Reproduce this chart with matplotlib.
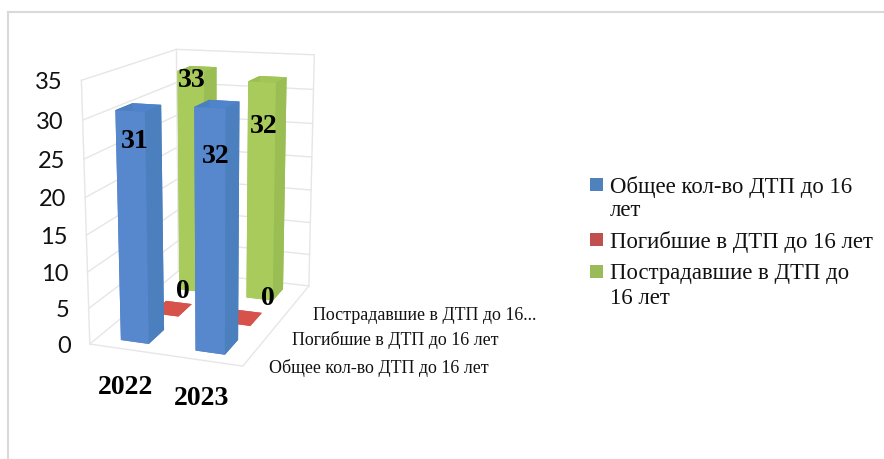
import numpy as np
import matplotlib
matplotlib.use("Agg")
import matplotlib.pyplot as plt
import matplotlib.transforms as mtransforms
from matplotlib.lines import Line2D
from matplotlib.patches import Rectangle
from mpl_toolkits.mplot3d import proj3d

W, H = 884, 459

# ---- data ----
years = ["2022", "2023"]
series_names = ["Общее кол-во ДТП до 16 лет", "Погибшие в ДТП до 16 лет", "Пострадавшие в ДТП до 16 лет"]
total = [31, 32]
killed = [0, 0]
injured = [33, 32]
y_ticks = [0, 5, 10, 15, 20, 25, 30, 35]
depth_labels = ["Общее кол-во ДТП до 16 лет", "Погибшие в ДТП до 16 лет", "Пострадавшие в ДТП до 16..."]
legend_lines = [["Общее кол-во ДТП до 16", "лет"], ["Погибшие в ДТП до 16 лет"], ["Пострадавшие в ДТП до", "16 лет"]]

# ---- style ----
SERIF = "Liberation Serif"
face_colors = [
    {"front": "#5787CC", "side": "#4B7FBE", "top": "#4F84CC"},
    {"front": "#D8524C", "side": "#C0504D", "top": "#D8524C"},
    {"front": "#A8CB5C", "side": "#9ABD54", "top": "#A2C558"},
]
legend_colors = ["#4F81BD", "#C0504D", "#9BBB59"]
GRID = "#E6E6E6"
BAR_W, BAR_D = 0.38, 0.50
YMAX = 35

fig = plt.figure(figsize=(W / 100, H / 100), dpi=100, facecolor="white")
ax = fig.add_axes([0, 0, H / W, 1], projection="3d")
ax.set_axis_off()
ax.patch.set_visible(False)
ax.apply_aspect()

# Perspective camera calibrated on the box corners (world -> figure pixels)
world = np.array([[0, 0, 0], [2, 0, 0], [0, 3, 0], [2, 3, 0],
                  [0, 0, YMAX], [0, 3, YMAX], [2, 3, YMAX]], float)
pix = np.array([[90, 343], [243, 367], [178, 272], [309, 285],
                [81, 80.5], [177, 49], [314, 55]], float)
disp = np.column_stack([pix[:, 0], H - pix[:, 1]])
uv = ax.transData.inverted().transform(disp)
A, b = [], []
for (X, Y, Z), (u, v) in zip(world, uv):
    A.append([X, Y, Z, 1, 0, 0, 0, 0, -u * X, -u * Y, -u * Z]); b.append(u)
    A.append([0, 0, 0, 0, X, Y, Z, 1, -v * X, -v * Y, -v * Z]); b.append(v)
p = np.linalg.lstsq(np.array(A), np.array(b), rcond=None)[0]
M = np.array([p[:4], p[4:8], [0, 0.1, 0, 0], [p[8], p[9], p[10], 1.0]])
ax.get_proj = lambda: M


def label3d(x, y, z, s, dx=0, dy=0, **kw):
    u, v, _ = proj3d.proj_transform(x, y, z, M)
    tr = mtransforms.offset_copy(ax.transData, fig=fig, x=dx, y=-dy, units="dots")
    ax.text2D(u, v, s, transform=tr, zorder=1000, va="center", **kw)


def wall_line(xs, ys, zs):
    us, vs, _ = proj3d.proj_transform(np.array(xs, float), np.array(ys, float), np.array(zs, float), M)
    ax.add_line(Line2D(us, vs, color=GRID, lw=1, zorder=1))


# walls and gridlines
for v in y_ticks:
    wall_line([0, 0, 2], [0, 3, 3], [v, v, v])
for x, y in [(0, 0), (0, 3), (2, 3)]:
    wall_line([x, x], [y, y], [0, YMAX])
wall_line([0, 2, 2], [0, 0, 3], [0, 0, 0])

# bars
all_series = [total, killed, injured]
for j, vals in enumerate(all_series):
    c = face_colors[j]
    n = len(vals)
    cols = [c["side"], c["top"], c["front"], c["side"], c["side"], c["side"]] * n
    ax.bar3d(np.arange(n) + (1 - BAR_W) / 2, np.full(n, j + (1 - BAR_D) / 2), np.zeros(n),
             BAR_W, BAR_D, vals, color=cols, shade=False, linewidth=0, edgecolor="none")

# data labels (pixel nudges per label)
label_nudge = {(0, 0): (5, 31), (0, 1): (6, 49), (1, 0): (18, -23), (1, 1): (31, -26), (2, 0): (1, 9), (2, 1): (2, 44)}
for j, vals in enumerate(all_series):
    for i, v in enumerate(vals):
        dx, dy = label_nudge[(j, i)]
        label3d(i + 0.5, j + 0.25, v, str(v), dx, dy, fontfamily=SERIF, fontweight="bold", fontsize=20,
                ha="center", color="black")

# value axis labels
for v in y_ticks:
    label3d(0, 0, v, str(v), -19, 2, fontfamily="Lato", fontsize=17, color="#111111", ha="right")

# category labels
for i, y in enumerate(years):
    label3d(i + 0.5, 0, 0, y, -1, 38, fontfamily=SERIF, fontweight="bold", fontsize=20, ha="center",
            color="black")

# depth labels
for j, t in enumerate(depth_labels):
    label3d(2, j + 0.5, 0, t, 13, 18, fontfamily=SERIF, fontsize=12.9, ha="left", color="#111111")

# frame
fig.add_artist(Line2D([8 / W, 8 / W], [0, 1 - 12 / H], color="#D9D9D9", lw=1.5))
fig.add_artist(Line2D([8 / W, 1], [1 - 12 / H, 1 - 12 / H], color="#D9D9D9", lw=1.5))

# legend
legend_y = [184, 239.5, 271.5]
line_gap = 24
for lines, col, y in zip(legend_lines, legend_colors, legend_y):
    fig.add_artist(Rectangle((590 / W, 1 - (y + 6.5) / H), 13 / W, 13 / H, color=col, lw=0, transform=fig.transFigure))
    for k, t in enumerate(lines):
        fig.text(610 / W, 1 - (y + 2.5 + k * line_gap) / H, t, fontfamily=SERIF, fontsize=16.4, color="#111111",
                 ha="left", va="center")

fig.savefig("out.png", dpi=100)
